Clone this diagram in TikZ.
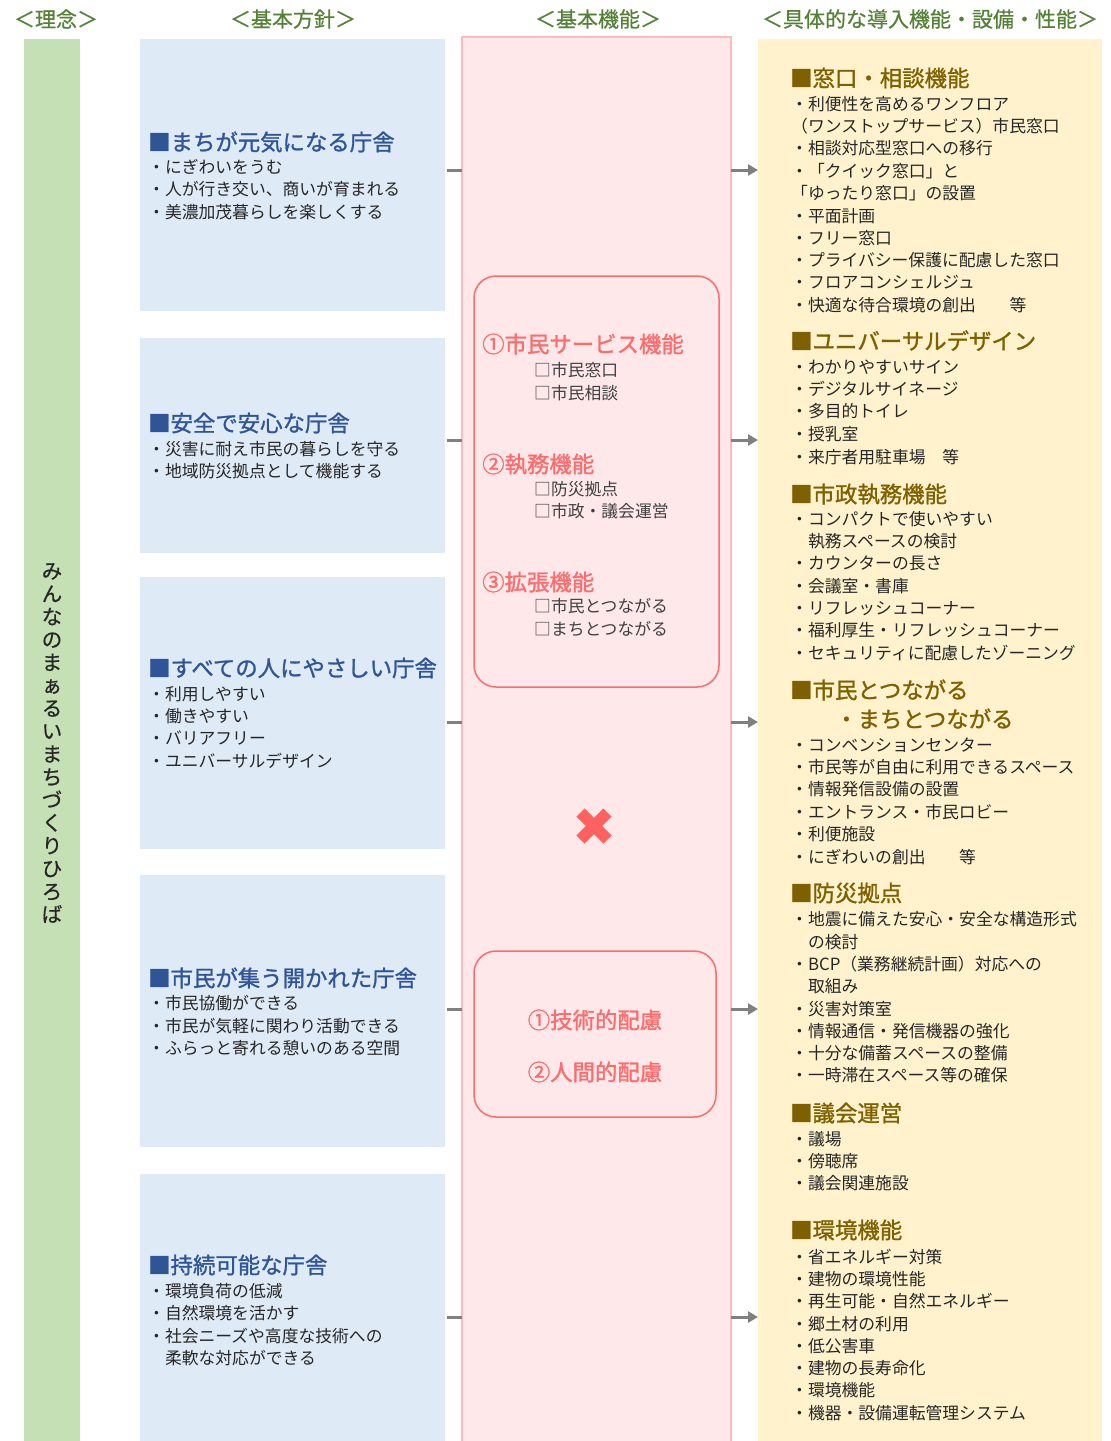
\documentclass[tikz,border=0pt]{standalone}
\usepackage{fontspec}
\setmainfont{Noto Sans CJK JP}
\newfontfamily\ttlfont[FakeBold=1.2]{Noto Sans CJK JP}
\newfontfamily\hdrfont[FakeBold=0.6]{Noto Sans CJK JP}
\usetikzlibrary{arrows.meta}
\definecolor{gbar}{HTML}{C5E0B4}
\definecolor{bbox}{HTML}{DEEAF6}
\definecolor{pfill}{HTML}{FFE8EA}
\definecolor{pline}{HTML}{FFB9BE}
\definecolor{rline}{HTML}{FF6B6B}
\definecolor{rtext}{HTML}{FF6B6B}
\definecolor{ybox}{HTML}{FFF2CC}
\definecolor{hdrc}{HTML}{538135}
\definecolor{btitle}{HTML}{2F5597}
\definecolor{ytitle}{HTML}{7F6000}
\definecolor{txtc}{HTML}{262626}
\definecolor{itemc}{HTML}{404040}
\definecolor{conc}{HTML}{808080}
\definecolor{xcol}{HTML}{FF6161}
\tikzset{
  colbox/.style={anchor=north west, inner sep=0pt, outer sep=0pt},
  hdr/.style={font=\hdrfont\fontsize{21}{24}\selectfont, text=hdrc, inner sep=0pt},
  bodyl/.style={anchor=west, inner sep=0pt, text height=14.8pt, text depth=2pt, font=\fontsize{16.8}{20}\selectfont, text=txtc},
  ttl/.style={anchor=west, inner sep=0pt, text height=19.7pt, text depth=2.7pt, font=\ttlfont\fontsize{22.4}{26}\selectfont},
  stub/.style={draw=conc, line width=3pt},
  arr/.style={draw=conc, line width=3pt, -{Triangle[length=10pt,width=11pt]}},
  ibox/.style={colbox, draw=rline, line width=1.5pt, rounded corners=22pt, fill=pfill},
  xmk/.style={draw=xcol, line width=11.5pt}
}
\begin{document}
\begin{tikzpicture}[x=1pt,y=-1pt]
\useasboundingbox (0,0) rectangle (1111,1441);
\fill[white] (0,0) rectangle (1111,1441);

% headers
\node[hdr] (h1) at (56,19) {＜理念＞};
\node[hdr] (h2) at (293,19) {＜基本方針＞};
\node[hdr] (h3) at (598,19) {＜基本機能＞};
\node[hdr] (h4) at (930,19) {＜具体的な導入機能・設備・性能＞};

% columns
\node[colbox, fill=gbar, minimum width=56pt, minimum height=1410pt] (green) at (24,39) {};
\node[colbox, fill=pfill, draw=pline, line width=1.5pt, minimum width=269pt, minimum height=1420pt] (pink) at (462,37) {};
\node[colbox, fill=ybox, minimum width=344pt, minimum height=1410pt] (yel) at (758,39) {};

\node[colbox, fill=bbox, minimum width=305pt, minimum height=272pt] (b1) at (140,39) {};
\node[colbox, fill=bbox, minimum width=305pt, minimum height=215pt] (b2) at (140,338) {};
\node[colbox, fill=bbox, minimum width=305pt, minimum height=272pt] (b3) at (140,577) {};
\node[colbox, fill=bbox, minimum width=305pt, minimum height=272pt] (b4) at (140,875) {};
\node[colbox, fill=bbox, minimum width=305pt, minimum height=280pt] (b5) at (140,1174) {};

% vertical text
\node[font=\hdrfont\fontsize{20.5}{22.9}\selectfont, align=center, inner sep=0pt, text=txtc] (vt) at (52,743)
 {み\\ん\\な\\の\\ま\\ぁ\\る\\い\\ま\\ち\\づ\\く\\り\\ひ\\ろ\\ば};

% connectors
\foreach \yy/\bb in {170/b1,440/b2,722/b3,1009/b4,1317/b5} {
  \draw[stub, shorten <=2pt] (\bb.east |- 0,\yy) -- (pink.west |- 0,\yy);
  \draw[arr] (pink.east |- 0,\yy) -- (yel.west |- 0,\yy);
}

% left boxes
\node[ttl, text=btitle] (t1) at (148,142) {■まちが元気になる庁舎};
\foreach \yy/\tt [count=\k] in {167/・にぎわいをうむ, 189/・人が行き交い、商いが育まれる, 212/・美濃加茂暮らしを楽しくする}
  \node[bodyl] (l1-\k) at (148,\yy) {\tt};
\node[ttl, text=btitle] (t2) at (148,423) {■安全で安心な庁舎};
\foreach \yy/\tt [count=\k] in {449/・災害に耐え市民の暮らしを守る, 471/・地域防災拠点として機能する}
  \node[bodyl] (l2-\k) at (148,\yy) {\tt};
\node[ttl, text=btitle] (t3) at (148,668) {■すべての人にやさしい庁舎};
\foreach \yy/\tt [count=\k] in {694/・利用しやすい, 716/・働きやすい, 738/・バリアフリー, 761/・ユニバーサルデザイン}
  \node[bodyl] (l3-\k) at (148,\yy) {\tt};
\node[ttl, text=btitle] (t4) at (148,978) {■市民が集う開かれた庁舎};
\foreach \yy/\tt [count=\k] in {1003/・市民協働ができる, 1026/・市民が気軽に関わり活動できる, 1048/・ふらっと寄れる憩いのある空間}
  \node[bodyl] (l4-\k) at (148,\yy) {\tt};
\node[ttl, text=btitle] (t5) at (148,1265) {■持続可能な庁舎};
\foreach \yy/\tt [count=\k] in {1291/・環境負荷の低減, 1313/・自然環境を活かす, 1336/・社会ニーズや高度な技術への, 1358/　柔軟な対応ができる}
  \node[bodyl] (l5-\k) at (148,\yy) {\tt};

% middle inner boxes
\node[ibox, minimum width=245pt, minimum height=411pt] (ib1) at (474,276) {};
\node[ibox, minimum width=242pt, minimum height=166pt] (ib2) at (474,951) {};

\node[ttl, text=rtext] (m1) at (482,344) {①市民サービス機能};
\node[bodyl, text=itemc] (m1a) at (534,370) {□市民窓口};
\node[bodyl, text=itemc] (m1b) at (534,393) {□市民相談};
\node[ttl, text=rtext] (m2) at (482,464) {②執務機能};
\node[bodyl, text=itemc] (m2a) at (534,489) {□防災拠点};
\node[bodyl, text=itemc] (m2b) at (534,511) {□市政・議会運営};
\node[ttl, text=rtext] (m3) at (482,582) {③拡張機能};
\node[bodyl, text=itemc] (m3a) at (534,606) {□市民とつながる};
\node[bodyl, text=itemc] (m3b) at (534,629) {□まちとつながる};

\draw[xmk] (580.5,812.5) -- (607.5,839.5);
\draw[xmk] (607.5,812.5) -- (580.5,839.5);

\node[ttl, anchor=center, text=rtext] (m4) at (595,1020) {①技術的配慮};
\node[ttl, anchor=center, text=rtext] (m5) at (595,1072) {②人間的配慮};

% right column
\node[ttl, text=ytitle] (r1) at (790,78) {■窓口・相談機能};
\foreach \yy/\tt [count=\k] in {104/・利便性を高めるワンフロア, 126/（ワンストップサービス）市民窓口, 148/・相談対応型窓口への移行, 171/・「クイック窓口」と, 193/「ゆったり窓口」の設置, 216/・平面計画, 238/・フリー窓口, 260/・プライバシー保護に配慮した窓口, 282/・フロアコンシェルジュ, 305/・快適な待合環境の創出　　等}
  \node[bodyl] (s1-\k) at (791,\yy) {\tt};
\node[ttl, text=ytitle] (r2) at (790,341) {■ユニバーサルデザイン};
\foreach \yy/\tt [count=\k] in {367/・わかりやすいサイン, 389/・デジタルサイネージ, 411/・多目的トイレ, 434/・授乳室, 457/・来庁者用駐車場　等}
  \node[bodyl] (s2-\k) at (791,\yy) {\tt};
\node[ttl, text=ytitle] (r3) at (790,494) {■市政執務機能};
\foreach \yy/\tt [count=\k] in {519/・コンパクトで使いやすい, 541/　執務スペースの検討, 563/・カウンターの長さ, 586/・会議室・書庫, 608/・リフレッシュコーナー, 630/・福利厚生・リフレッシュコーナー, 653/・セキュリティに配慮したゾーニング}
  \node[bodyl] (s3-\k) at (791,\yy) {\tt};
\node[ttl, text=ytitle] (r4) at (790,690) {■市民とつながる};
\node[ttl, text=ytitle] (r4b) at (835,719) {・まちとつながる};
\foreach \yy/\tt [count=\k] in {745/・コンベンションセンター, 767/・市民等が自由に利用できるスペース, 789/・情報発信設備の設置, 812/・エントランス・市民ロビー, 834/・利便施設, 857/・にぎわいの創出　　等}
  \node[bodyl] (s4-\k) at (791,\yy) {\tt};
\node[ttl, text=ytitle] (r5) at (790,893) {■防災拠点};
\foreach \yy/\tt [count=\k] in {919/・地震に備えた安心・安全な構造形式, 942/　の検討, 964/・BCP（業務継続計画）対応への, 986/　取組み, 1009/・災害対策室, 1031/・情報通信・発信機器の強化, 1053/・十分な備蓄スペースの整備, 1075/・一時滞在スペース等の確保}
  \node[bodyl] (s5-\k) at (791,\yy) {\tt};
\node[ttl, text=ytitle] (r6) at (790,1113) {■議会運営};
\foreach \yy/\tt [count=\k] in {1139/・議場, 1161/・傍聴席, 1183/・議会関連施設}
  \node[bodyl] (s6-\k) at (791,\yy) {\tt};
\node[ttl, text=ytitle] (r7) at (790,1230) {■環境機能};
\foreach \yy/\tt [count=\k] in {1257/・省エネルギー対策, 1279/・建物の環境性能, 1301/・再生可能・自然エネルギー, 1324/・郷土材の利用, 1346/・低公害車, 1368/・建物の長寿命化, 1390/・環境機能, 1413/・機器・設備運転管理システム}
  \node[bodyl] (s7-\k) at (791,\yy) {\tt};
\end{tikzpicture}
\end{document}
